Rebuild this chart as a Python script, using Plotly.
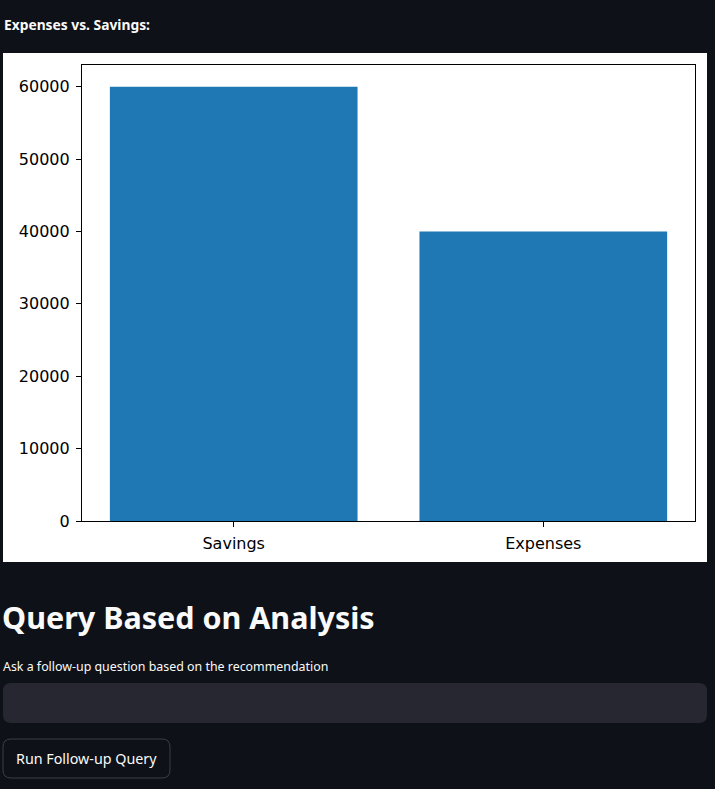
import plotly.graph_objects as go

categories = ["Savings", "Expenses"]
values = [60000, 40000]
y_ticks = [0, 10000, 20000, 30000, 40000, 50000, 60000]

W, H = 715, 789
BG = "#0e1117"

def px(x):
    return x / W

def py(y):
    return 1 - y / H

def rounded(x0, y0, x1, y1, r):
    rx, ry = r / W, r / H
    X0, X1 = px(x0), px(x1)
    Y0, Y1 = py(y0), py(y1)  # Y0 top (larger), Y1 bottom
    return (f"M {X0+rx},{Y0} L {X1-rx},{Y0} Q {X1},{Y0} {X1},{Y0-ry} "
            f"L {X1},{Y1+ry} Q {X1},{Y1} {X1-rx},{Y1} L {X0+rx},{Y1} "
            f"Q {X0},{Y1} {X0},{Y1+ry} L {X0},{Y0-ry} Q {X0},{Y0} {X0+rx},{Y0} Z")

fig = go.Figure()
fig.add_trace(go.Bar(x=categories, y=values, marker_color="#1f77b4",
                     marker_line_width=0, width=0.8))

axis_common = dict(showline=True, linecolor="black", linewidth=1.2, mirror=True,
                   ticks="outside", ticklen=5, tickwidth=1.2, tickcolor="black",
                   showgrid=False, zeroline=False, automargin=False,
                   ticklabelstandoff=3,
                   tickfont=dict(family="DejaVu Sans", size=16, color="black"))

fig.update_layout(
    width=W, height=H,
    margin=dict(l=0, r=0, t=0, b=0),
    paper_bgcolor=BG, plot_bgcolor="white",
    showlegend=False,
    xaxis=dict(domain=[px(82), px(695)], range=[-0.49, 1.49], **axis_common),
    yaxis=dict(domain=[py(521), py(65)], range=[0, 63000], tickvals=y_ticks,
               ticktext=[str(v) for v in y_ticks], **axis_common),
    shapes=[
        dict(type="rect", xref="paper", yref="paper", x0=px(3), x1=px(707),
             y0=py(562), y1=py(53), fillcolor="white", line_width=0, layer="below"),
        dict(type="path", xref="paper", yref="paper", path=rounded(3, 683, 707, 723, 8),
             fillcolor="#262730", line_width=0),
        dict(type="path", xref="paper", yref="paper", path=rounded(3, 739, 170, 778, 8),
             fillcolor=BG, line=dict(color="#3d3f4a", width=1)),
    ],
    annotations=[
        dict(text="<b>Expenses vs. Savings:</b>", x=px(2), y=py(25), xref="paper", yref="paper",
             xanchor="left", yanchor="middle", showarrow=False,
             font=dict(family="Noto Sans", size=13.8, color="#fafafa")),
        dict(text="<b>Query Based on Analysis</b>", x=px(0), y=py(617), xref="paper", yref="paper",
             xanchor="left", yanchor="middle", showarrow=False,
             font=dict(family="Noto Sans", size=30.5, color="#fafafa")),
        dict(text="Ask a follow-up question based on the recommendation", x=px(1), y=py(666),
             xref="paper", yref="paper", xanchor="left", yanchor="middle", showarrow=False,
             font=dict(family="Noto Sans", size=12.4, color="#fafafa")),
        dict(text="Run Follow-up Query", x=px(86.5), y=py(758.5), xref="paper", yref="paper",
             xanchor="center", yanchor="middle", showarrow=False,
             font=dict(family="Noto Sans", size=14.3, color="#fafafa")),
    ],
)

fig.write_html("out.html", config={"displayModeBar": False},
               post_script="document.body.style.margin='0';document.body.style.background='#0e1117';")
